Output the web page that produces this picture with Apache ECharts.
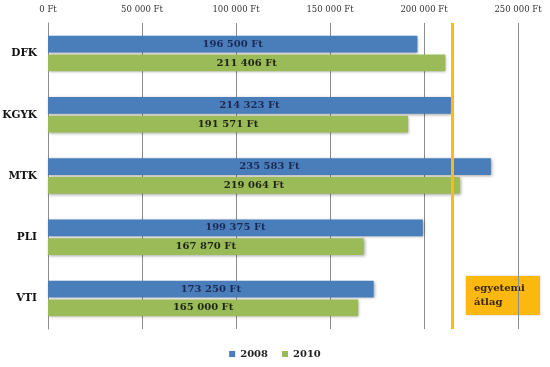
<!DOCTYPE html>
<html><head><meta charset="utf-8">
<script src="https://cdn.jsdelivr.net/npm/echarts@6/dist/echarts.min.js"></script>
<style>html,body{margin:0;padding:0;background:#fff}#c{width:550px;height:367px}</style>
</head><body><div id="c"></div>
<script>
const categories = ['DFK', 'KGYK', 'MTK', 'PLI', 'VTI'];
const values2008 = [196500, 214323, 235583, 199375, 173250];
const values2010 = [211406, 191571, 219064, 167870, 165000];
const universityAverage = 215000;
const axisMax = 250000;
const axisInterval = 50000;

function fmt(v) { return String(v).replace(/\B(?=(\d{3})+(?!\d))/g, ' ') + ' Ft'; }
const serif = 'DejaVu Serif';
const chart = echarts.init(document.getElementById('c'));
const shadow = { shadowBlur: 3, shadowColor: 'rgba(0,0,0,0.35)', shadowOffsetX: 1, shadowOffsetY: 1 };
chart.setOption({
  animation: false,
  grid: { left: 48, right: 32, top: 23, bottom: 38, containLabel: false, outerBoundsMode: 'none' },
  legend: {
    data: ['2008', '2010'], bottom: 3, left: 'center', itemWidth: 6, itemHeight: 6, itemGap: 14,
    icon: 'rect',
    textStyle: { fontFamily: serif, fontWeight: 'bold', fontSize: 10, color: '#222' }
  },
  xAxis: {
    type: 'value', position: 'top', min: 0, max: axisMax, interval: axisInterval,
    axisLine: { show: false }, axisTick: { show: false },
    splitLine: { lineStyle: { color: '#8c8c8c', width: 1 } },
    axisLabel: { formatter: fmt, fontFamily: serif, fontSize: 8.5, color: '#333', margin: 9 }
  },
  yAxis: {
    type: 'category', data: categories, inverse: true,
    axisLine: { lineStyle: { color: '#8c8c8c' } },
    axisTick: { lineStyle: { color: '#8c8c8c' }, length: 4 },
    axisLabel: { fontFamily: serif, fontWeight: 'bold', fontSize: 10.5, color: '#111', margin: 11 }
  },
  series: [
    {
      name: '2008', type: 'bar', data: values2008, barGap: '12%', barCategoryGap: '42%',
      itemStyle: Object.assign({ color: '#4a7ebb' }, shadow),
      label: { show: true, position: 'inside', formatter: p => fmt(p.value), fontFamily: serif, fontWeight: 'bold', fontSize: 10, color: '#1b2a55' },
      markLine: {
        silent: true, symbol: 'none', label: { show: false },
        lineStyle: { color: '#f7bc1b', width: 3, type: 'solid' },
        data: [{ xAxis: universityAverage }]
      }
    },
    {
      name: '2010', type: 'bar', data: values2010,
      itemStyle: Object.assign({ color: '#9bbb59' }, shadow),
      label: { show: true, position: 'inside', formatter: p => fmt(p.value), fontFamily: serif, fontWeight: 'bold', fontSize: 10, color: '#1e2512' }
    }
  ],
  graphic: [
    { type: 'rect', left: 466, top: 276, shape: { width: 74, height: 39 }, style: { fill: '#fbb80f', shadowBlur: 2, shadowColor: 'rgba(0,0,0,0.25)' } },
    { type: 'text', left: 474, top: 281, style: { text: 'egyetemi\nátlag', fontFamily: serif, fontWeight: 'bold', fontSize: 10, fill: '#3a2600', lineHeight: 14 } }
  ]
});
</script></body></html>
